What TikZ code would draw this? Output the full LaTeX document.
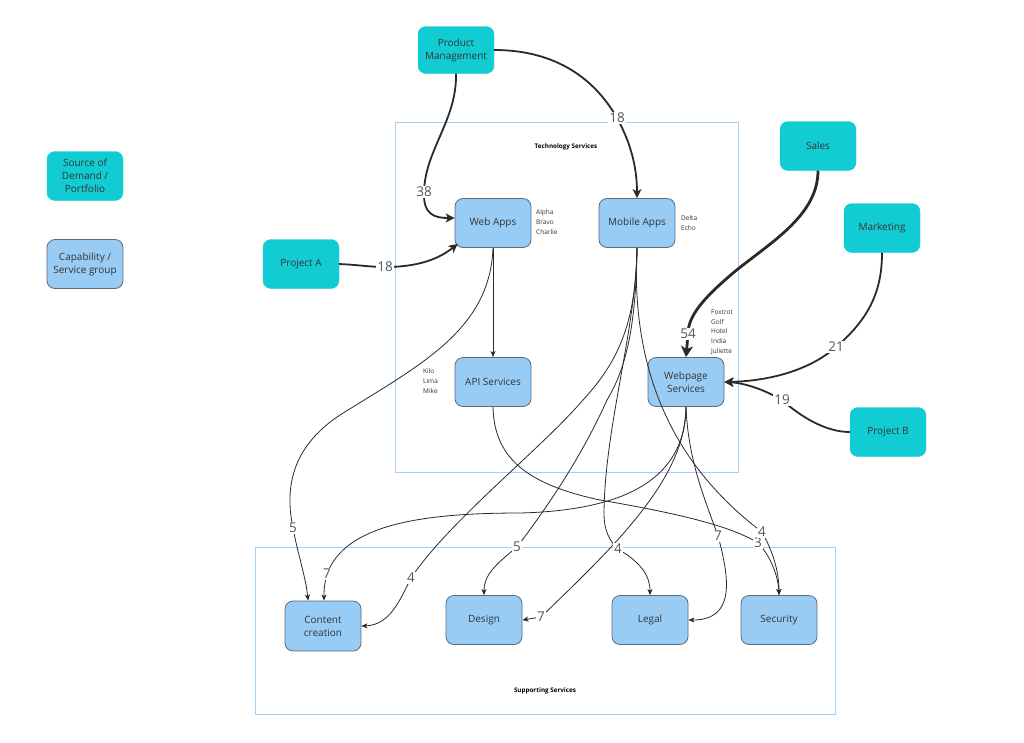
\documentclass[tikz,border=0pt]{standalone}
\usepackage{fontspec}
\setmainfont{Open Sans}
\usetikzlibrary{arrows.meta}
\definecolor{tealc}{HTML}{12CCD3}
\definecolor{bluec}{HTML}{99CCF5}
\definecolor{bordc}{HTML}{5F6B75}
\definecolor{contc}{HTML}{A6CFF5}
\definecolor{txtc}{HTML}{333333}
\definecolor{numc}{HTML}{555555}
\definecolor{linec}{HTML}{2A2A2A}
\begin{document}
\begin{tikzpicture}[x=1pt,y=-1pt,
  box/.style={rounded corners=8pt, minimum width=76pt, minimum height=49pt, align=center, text=txtc, font=\fontsize{10}{13}\selectfont, inner sep=2pt},
  src/.style={box, fill=tealc, draw=tealc},
  capb/.style={box, fill=bluec, draw=bordc, line width=0.8pt},
  cont/.style={draw=contc, line width=1.3pt, anchor=north west, inner sep=0pt},
  ctitle/.style={font=\bfseries\fontsize{6.3}{8}\selectfont, text=black},
  side/.style={font=\fontsize{6.5}{9.7}\selectfont, text=txtc, align=left, anchor=west, inner sep=0pt},
  lbl/.style={fill=white, text=numc, font=\fontsize{13.5}{14}\selectfont, inner sep=1pt},
  thin/.style={draw=linec, line width=0.8pt, -{Stealth[length=6pt,width=5pt,inset=1.5pt]}},
  med/.style={draw=linec, line width=1.8pt, -{Stealth[length=9pt,width=9pt,inset=2.5pt]}},
  heavy/.style={draw=linec, line width=2.8pt, -{Stealth[length=11pt,width=12pt,inset=3pt]}}
]
\useasboundingbox[fill=white] (0,0) rectangle (1024,742);

% containers
\node[cont, minimum width=343pt, minimum height=350pt] (tech) at (395,122) {};
\node[ctitle] (techt) at (566,147) {Technology Services};
\node[cont, minimum width=580pt, minimum height=167pt] (supp) at (255,547) {};
\node[ctitle] (suppt) at (545,691) {Supporting Services};

% legend
\node[src] (leg1) at (85,176) {Source of\\Demand /\\Portfolio};
\node[capb] (leg2) at (85,264) {Capability /\\Service group};

% sources
\node[src, minimum height=47pt] (pm) at (456,50) {Product\\Management};
\node[src] (pa) at (301,264) {Project A};
\node[src] (sales) at (818,146) {Sales};
\node[src] (mkt) at (882,228) {Marketing};
\node[src] (pb) at (888,432) {Project B};

% capabilities
\node[capb] (web) at (493,223) {Web Apps};
\node[capb] (mob) at (637,223) {Mobile Apps};
\node[capb] (api) at (493,382) {API Services};
\node[capb] (wps) at (686,382) {Webpage\\Services};
\node[capb, minimum height=50pt] (cc) at (323,626) {Content\\creation};
\node[capb] (des) at (484,620) {Design};
\node[capb] (leg) at (650,620) {Legal};
\node[capb] (sec) at (779,620) {Security};

% side texts
\node[side] (s1) at (536,222) {Alpha\\Bravo\\Charlie};
\node[side] (s2) at (681,223) {Delta\\Echo};
\node[side] (s3) at (711,332) {Foxtrot\\Golf\\Hotel\\India\\Juliette};
\node[side] (s4) at (423,381) {Kilo\\Lima\\Mike};

% label positions
\coordinate (l38) at (424,192);
\coordinate (l18a) at (617,118);
\coordinate (l18b) at (385,267);
\coordinate (l54) at (688,334);
\coordinate (l21) at (836,347);
\coordinate (l19) at (782,400);
\coordinate (l5a) at (293,528);
\coordinate (l7a) at (327,574);
\coordinate (l4a) at (411,578);
\coordinate (l5b) at (517,547);
\coordinate (l7b) at (541,617);
\coordinate (l4b) at (618,549);
\coordinate (l7c) at (718,536);
\coordinate (l4c) at (762,532);
\coordinate (l3) at (758,543);

% thick connectors
\draw[med] (pm.south) .. controls (457,120) and (425,150) .. (l38)
  .. controls (423,215) and (435,218) .. ([yshift=5pt]web.west);
\draw[med] (pm.east) .. controls (565,50) and (600,88) .. (l18a)
  .. controls (632,145) and (637,170) .. (mob.north);
\draw[med] (pa.east) .. controls (360,265) and (370,267) .. (l18b)
  .. controls (420,267) and (440,258) .. ([shift={(3pt,4pt)}]web.south west);
\draw[heavy] (sales.south) .. controls (818,220) and (760,248) .. (725,280)
  .. controls (700,302) and (688,318) .. (l54) -- (wps.north);
\draw[med] (mkt.south) .. controls (882,290) and (870,318) .. (l21)
  .. controls (810,370) and (770,381) .. (wps.east);
\draw[med] (pb.west) .. controls (825,432) and (800,416) .. (l19)
  .. controls (765,390) and (745,383) .. (wps.east);

% thin connectors
\draw[thin] (web.south) -- (api.north);
\draw[thin] (web.south) .. controls (490,330) and (420,365) .. (340,415)
  .. controls (290,448) and (285,490) .. (l5a)
  .. controls (298,555) and (306,578) .. ([xshift=-15pt]cc.north);
\draw[thin] (mob.south) .. controls (636,320) and (620,360) .. (583,400)
  .. controls (540,450) and (450,520) .. (l4a)
  .. controls (400,600) and (390,625) .. (cc.east);
\draw[thin] (mob.south) .. controls (636,330) and (625,370) .. (607,400)
  .. controls (580,460) and (545,510) .. (l5b)
  .. controls (495,565) and (484,575) .. (des.north);
\draw[thin] (mob.south) .. controls (636,330) and (604,430) .. (604,515)
  .. controls (604,530) and (610,542) .. (l4b)
  .. controls (640,562) and (650,575) .. (leg.north);
\draw[thin] (mob.south) .. controls (630,380) and (680,470) .. (l4c)
  .. controls (772,550) and (779,570) .. (sec.north);
\draw[thin] (api.south) .. controls (494,460) and (530,485) .. (600,500)
  .. controls (670,512) and (730,525) .. (l3)
  .. controls (770,555) and (778,575) .. (sec.north);
\draw[thin] (wps.south) .. controls (685,470) and (640,510) .. (520,513)
  .. controls (420,513) and (345,525) .. (l7a)
  .. controls (324,585) and (324,592) .. ([xshift=1pt]cc.north);
\draw[thin] (wps.south) .. controls (686,480) and (610,550) .. (l7b) -- (des.east);
\draw[thin] (wps.south) .. controls (688,460) and (705,500) .. (l7c)
  .. controls (730,580) and (735,620) .. (leg.east);

% labels
\node[lbl] (t38) at (l38) {38};
\node[lbl] (t18a) at (l18a) {18};
\node[lbl] (t18b) at (l18b) {18};
\node[lbl] (t54) at (l54) {54};
\node[lbl] (t21) at (l21) {21};
\node[lbl] (t19) at (l19) {19};
\node[lbl] (t5a) at (l5a) {5};
\node[lbl] (t7a) at (l7a) {7};
\node[lbl] (t4a) at (l4a) {4};
\node[lbl] (t5b) at (l5b) {5};
\node[lbl] (t7b) at (l7b) {7};
\node[lbl] (t4b) at (l4b) {4};
\node[lbl] (t7c) at (l7c) {7};
\node[lbl] (t3) at (l3) {3};
\node[lbl] (t4c) at (l4c) {4};
\end{tikzpicture}
\end{document}
